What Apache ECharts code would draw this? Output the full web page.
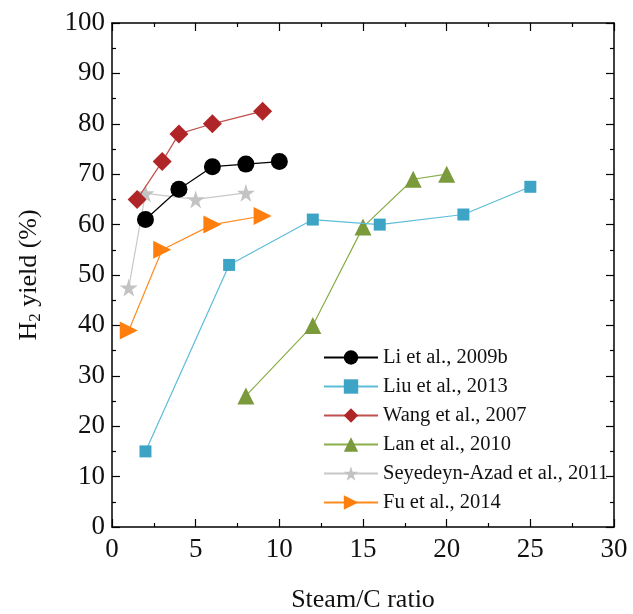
<!DOCTYPE html>
<html><head><meta charset="utf-8">
<script src="https://cdn.jsdelivr.net/npm/echarts@6/dist/echarts.min.js"></script>
<style>html,body{margin:0;padding:0;background:#fff}#c{width:633px;height:614px}</style>
</head><body><div id="c"></div>
<script>
const seriesNames = ["Li et al., 2009b","Liu et al., 2013","Wang et al., 2007","Lan et al., 2010","Seyedeyn-Azad et al., 2011","Fu et al., 2014"];
const liX = [2,4,6,8,10];           const liY = [61,67,71.5,72,72.5];
const liuX = [2,7,12,16,21,25];     const liuY = [15,52,61,60,62,67.5];
const wangX = [1.5,3,4,6,9];        const wangY = [65,72.5,78,80,82.5];
const lanX = [8,12,15,18,20];       const lanY = [26,40,59.5,69,70];
const seyX = [1,2,5,8];             const seyY = [47.5,66.2,65,66.3];
const fuX = [1,3,6,9];              const fuY = [39,55,60,61.7];
const xTicks = [0,5,10,15,20,25,30];
const yTicks = [0,10,20,30,40,50,60,70,80,90,100];

const pairs = (xs, ys) => xs.map((x,i)=>[x, ys[i]]);
const star = 'path://M50,0 L61,35 L98,35 L68,57 L79,91 L50,70 L21,91 L32,57 L2,35 L39,35 Z';
const font = '"Liberation Serif", "DejaVu Serif", serif';

const styles = [
  {sym:'circle', size:17, color:'#000000', line:'#000000'},
  {sym:'rect', size:12, color:'#3ea4c5', line:'#5dbdd8'},
  {sym:'diamond', size:19, color:'#b02628', line:'#c0504d'},
  {sym:'triangle', size:17, color:'#7a9a3c', line:'#8aae4a'},
  {sym:star, size:18, color:'#c3c3c3', line:'#c8c8c8'},
  {sym:'triangle', size:18, color:'#ff7f0e', line:'#ff8a1e', rot:-90}
];
const datas = [pairs(liX,liY), pairs(liuX,liuY), pairs(wangX,wangY), pairs(lanX,lanY), pairs(seyX,seyY), pairs(fuX,fuY)];

const series = seriesNames.map((n,i)=>({
  name:n, type:'line', data:datas[i], symbol:styles[i].sym, symbolSize:styles[i].size,
  symbolRotate: styles[i].rot || 0,
  itemStyle:{color:styles[i].color, opacity:1},
  lineStyle:{color:styles[i].line, width:1.2},
  emphasis:{disabled:true}, animation:false, z: 10-i
}));

const axisCommon = {
  axisLine:{show:true, onZero:false, lineStyle:{color:'#000', width:1.5}},
  axisTick:{show:true, inside:true, length:8, lineStyle:{color:'#000', width:1.2}},
  minorTick:{show:true, splitNumber:2, length:4, lineStyle:{color:'#000', width:1.2}},
  splitLine:{show:false}
};

const chart = echarts.init(document.getElementById('c'));
chart.setOption({
  animation:false,
  backgroundColor:'#fff',
  grid:{left:112, right:19, top:23, bottom:87, containLabel:false, outerBoundsMode:'none'},
  legend:{
    data:seriesNames, left:323, top:347, orient:'vertical', padding:0,
    itemWidth:54, itemHeight:18, itemGap:8, itemTextGap:6,
    textStyle:{fontFamily:font, fontSize:20.5, color:'#111'},
    inactiveColor:'#ccc'
  },
  xAxis:[
    Object.assign({type:'value', min:xTicks[0], max:xTicks[xTicks.length-1], interval:5, position:'bottom',
      name:'Steam/C ratio', nameLocation:'middle', nameGap:60,
      nameTextStyle:{fontFamily:font, fontSize:26, color:'#111'},
      axisLabel:{fontFamily:font, fontSize:27, color:'#111', margin:9}}, axisCommon),
    Object.assign({type:'value', min:0, max:30, interval:5, position:'top', axisLabel:{show:false}}, axisCommon)
  ],
  yAxis:[
    Object.assign({type:'value', min:yTicks[0], max:yTicks[yTicks.length-1], interval:10, position:'left',
      name:'{a|H}{s|2}{a| yield (%)}', nameLocation:'middle', nameGap:68,
      nameTextStyle:{fontFamily:font, fontSize:26, color:'#111',
        rich:{a:{fontFamily:font, fontSize:26, color:'#111'}, s:{fontFamily:font, fontSize:17, color:'#111', padding:[12,0,0,0]}}},
      axisLabel:{fontFamily:font, fontSize:27, color:'#111', margin:7}}, axisCommon),
    Object.assign({type:'value', min:0, max:100, interval:10, position:'right', axisLabel:{show:false}}, axisCommon)
  ],
  series: series
});
</script></body></html>
